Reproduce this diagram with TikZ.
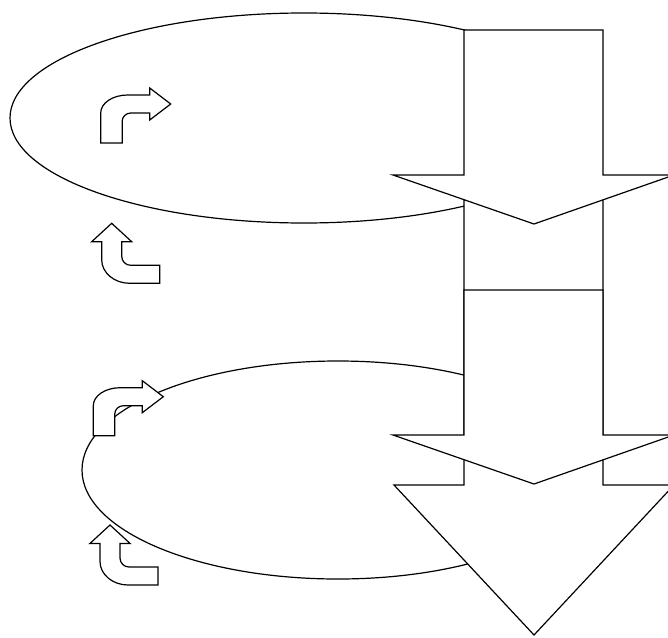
\documentclass[tikz,border=0pt]{standalone}
\usetikzlibrary{shapes.geometric}
\begin{document}
\begin{tikzpicture}[x=1pt,y=-1pt, line join=miter,
  shapeline/.style={draw=black, fill=white, line width=1.2pt},
  oval/.style={ellipse, draw=black, fill=white, line width=1.2pt, inner sep=0pt, outer sep=0pt},
  upright/.pic={\draw[shapeline] (0,0) -- (0,-30) .. controls (0,-40) and (12,-48) .. (27,-48) -- (49,-48) -- (49,-55) -- (70,-39) -- (49,-23) -- (49,-30) -- (30,-30) .. controls (25.6,-30) and (21.5,-26.4) .. (21.5,-22) -- (21.5,0) -- cycle;},
  upturn/.pic={\draw[shapeline] (0,0) -- (20,18.4) -- (10,18.4) -- (10,33) .. controls (10,38) and (14,42) .. (19,42) -- (48,42) -- (48,60) -- (18,60) .. controls (2.6,60) and (-10,49.4) .. (-10,36.5) -- (-10,18.4) -- (-20,18.4) -- cycle;}]
\useasboundingbox (0,0) rectangle (668,637);
% ellipses
\node[oval, minimum width=588pt, minimum height=210pt] (topoval) at (304,118) {};
\node[oval, minimum width=512pt, minimum height=218pt] (botoval) at (338,470) {};
% down arrows (bottom first)
\draw[shapeline] (464,200) -- (603,200) -- (603,485) -- (674,485) -- (534,635) -- (394,485) -- (464,485) -- cycle;
\draw[shapeline] (464,290) -- (603,290) -- (603,435) -- (674,435) -- (534,484) -- (393,435) -- (464,435) -- cycle;
\draw[shapeline] (464,30) -- (603,30) -- (603,175) -- (674,175) -- (534,224) -- (393,175) -- (464,175) -- cycle;
% bent arrows
\pic at (100.7,143) {upright};
\pic at (111.7,223.3) {upturn};
\pic at (93.3,435.7) {upright};
\pic at (110,525) {upturn};
\end{tikzpicture}
\end{document}
